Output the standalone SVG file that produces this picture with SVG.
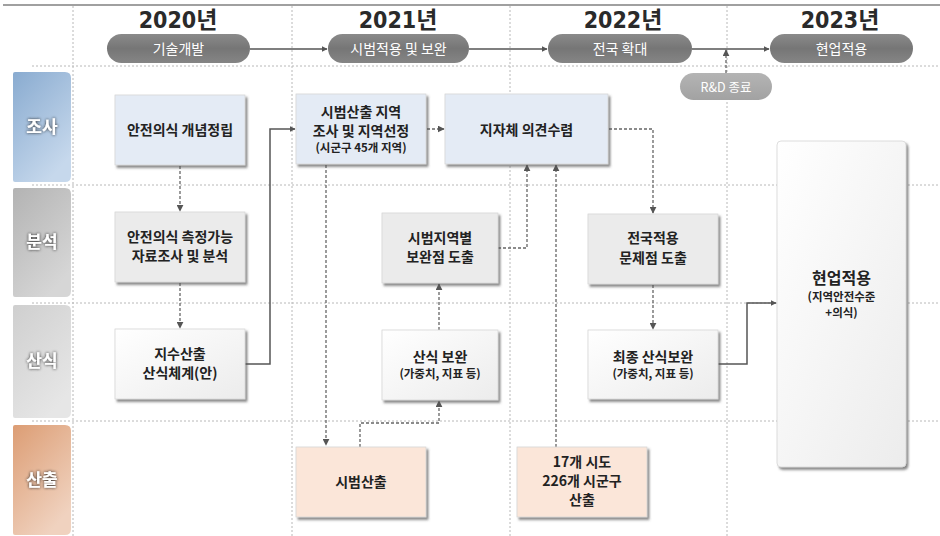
<svg xmlns="http://www.w3.org/2000/svg" width="940" height="536" viewBox="0 0 940 536">
<defs>
<style>
.grid{stroke:#b8b8b8;stroke-width:1;stroke-dasharray:2 2;fill:none}
.yr{font-family:"DejaVu Sans Condensed","DejaVu Sans","Noto Sans CJK KR",sans-serif;font-weight:bold;font-size:23px;fill:#2a2a2a;text-anchor:middle}
.pt{font-family:"Noto Sans CJK KR","Noto Sans",sans-serif;font-size:14px;fill:#fff;text-anchor:middle}
.lab{font-family:"Noto Sans CJK KR","Noto Sans",sans-serif;font-size:17px;font-weight:bold;fill:#fff;text-anchor:middle;filter:url(#glow)}
.t{font-family:"Noto Sans CJK KR","Noto Sans",sans-serif;font-size:14px;font-weight:bold;fill:#222;text-anchor:middle}
.s{font-family:"Noto Sans CJK KR","Noto Sans",sans-serif;font-size:11.5px;font-weight:bold;fill:#222;text-anchor:middle}
.box{filter:url(#sh);stroke:#d6d6d6;stroke-width:0.8}
.solid{stroke:#555;stroke-width:1.5;fill:none}
.dash{stroke:#666;stroke-width:1.3;stroke-dasharray:3 2;fill:none}
</style>
<filter id="sh" x="-10%" y="-10%" width="125%" height="130%">
<feDropShadow dx="2" dy="2.5" stdDeviation="1.2" flood-color="#555" flood-opacity="0.7"/>
</filter>
<filter id="glow" x="-30%" y="-30%" width="160%" height="160%">
<feDropShadow dx="0" dy="0" stdDeviation="1.8" flood-color="#222" flood-opacity="1"/>
</filter>
<marker id="ah" viewBox="0 0 10 10" refX="9" refY="5" markerWidth="6" markerHeight="6" orient="auto" markerUnits="userSpaceOnUse">
<path d="M0,0 L10,5 L0,10 z" fill="#555"/>
</marker>
<marker id="ahd" viewBox="0 0 10 10" refX="9" refY="5" markerWidth="7" markerHeight="7" orient="auto" markerUnits="userSpaceOnUse">
<path d="M0,0 L10,5 L0,10 z" fill="#555"/>
</marker>
<linearGradient id="gPill" x1="0" y1="0" x2="0" y2="1">
<stop offset="0" stop-color="#8a8a8a"/><stop offset="0.5" stop-color="#767676"/><stop offset="1" stop-color="#858585"/>
</linearGradient>
<linearGradient id="gRD" x1="0" y1="0" x2="0" y2="1">
<stop offset="0" stop-color="#b4b4b4"/><stop offset="1" stop-color="#a2a2a2"/>
</linearGradient>
<linearGradient id="gBlue" x1="0" y1="0" x2="0.6" y2="1">
<stop offset="0" stop-color="#89abd0"/><stop offset="1" stop-color="#c6d8ec"/>
</linearGradient>
<linearGradient id="gGray1" x1="0" y1="0" x2="0.6" y2="1">
<stop offset="0" stop-color="#b3b3b3"/><stop offset="1" stop-color="#d6d6d6"/>
</linearGradient>
<linearGradient id="gGray2" x1="0" y1="0" x2="0.6" y2="1">
<stop offset="0" stop-color="#cfcfcf"/><stop offset="1" stop-color="#e6e6e6"/>
</linearGradient>
<linearGradient id="gOr" x1="0" y1="0" x2="0.6" y2="1">
<stop offset="0" stop-color="#dc9d74"/><stop offset="1" stop-color="#f0d2bf"/>
</linearGradient>
<linearGradient id="gWhite" x1="0" y1="0" x2="1" y2="1">
<stop offset="0" stop-color="#ffffff"/><stop offset="1" stop-color="#ececec"/>
</linearGradient>
</defs>
<rect width="940" height="536" fill="#fff"/>

<g id="grid">
<line x1="3" y1="5" x2="940" y2="5" stroke="#808080" stroke-width="1.5"/>
<line class="grid" x1="73" y1="6" x2="73" y2="536"/>
<line class="grid" x1="292" y1="6" x2="292" y2="536"/>
<line class="grid" x1="510" y1="6" x2="510" y2="536"/>
<line class="grid" x1="727" y1="6" x2="727" y2="536"/>
<line class="grid" x1="32" y1="66" x2="940" y2="66"/>
<line class="grid" x1="32" y1="185" x2="940" y2="185"/>
<line class="grid" x1="32" y1="303" x2="940" y2="303"/>
<line class="grid" x1="32" y1="421" x2="940" y2="421"/>
</g>

<g id="years">
<text class="yr" x="178" y="28">2020년</text>
<text class="yr" x="398" y="28">2021년</text>
<text class="yr" x="623" y="28">2022년</text>
<text class="yr" x="840" y="28">2023년</text>
</g>

<g id="pill-1"><rect x="107" y="34" width="143" height="29" rx="14.5" fill="url(#gPill)"/><text class="pt" x="178.5" y="54">기술개발</text></g>
<g id="pill-2"><rect x="328" y="34" width="141" height="29" rx="14.5" fill="url(#gPill)"/><text class="pt" x="398.5" y="54">시범적용 및 보완</text></g>
<g id="pill-3"><rect x="548" y="34" width="144" height="29" rx="14.5" fill="url(#gPill)"/><text class="pt" x="620" y="54">전국 확대</text></g>
<g id="pill-4"><rect x="770" y="34" width="143" height="29" rx="14.5" fill="url(#gPill)"/><text class="pt" x="841.5" y="54">현업적용</text></g>
<g id="pill-rd"><rect x="680" y="73" width="92" height="27" rx="13.5" fill="url(#gRD)"/><text class="pt" x="726" y="91.5" style="font-size:12.5px">R&amp;D 종료</text></g>

<g id="lab-josa"><path d="M15,72 H65 Q71,72 71,78 V176 Q71,182 65,182 H15 Q13,182 13,180 V74 Q13,72 15,72 Z" fill="url(#gBlue)"/><text class="lab" x="42" y="133">조사</text></g>
<g id="lab-bunseok"><path d="M15,188 H65 Q71,188 71,194 V291 Q71,297 65,297 H15 Q13,297 13,295 V190 Q13,188 15,188 Z" fill="url(#gGray1)"/><text class="lab" x="42" y="248">분석</text></g>
<g id="lab-sansik"><path d="M15,305 H65 Q71,305 71,311 V412 Q71,418 65,418 H15 Q13,418 13,416 V307 Q13,305 15,305 Z" fill="url(#gGray2)"/><text class="lab" x="42" y="367">산식</text></g>
<g id="lab-sanchul"><path d="M15,425 H65 Q71,425 71,431 V529 Q71,535 65,535 H15 Q13,535 13,533 V427 Q13,425 15,425 Z" fill="url(#gOr)"/><text class="lab" x="42" y="486">산출</text></g>

<g id="connectors">
<line class="solid" x1="250" y1="49" x2="327" y2="49" marker-end="url(#ah)"/>
<line class="solid" x1="469" y1="49" x2="547" y2="49" marker-end="url(#ah)"/>
<line class="solid" x1="692" y1="49" x2="769" y2="49" marker-end="url(#ah)"/>
<line class="dash" x1="726" y1="73" x2="726" y2="50" marker-end="url(#ahd)"/>
<line class="dash" x1="180" y1="166" x2="180" y2="211" marker-end="url(#ahd)"/>
<line class="dash" x1="180" y1="283" x2="180" y2="328" marker-end="url(#ahd)"/>
<path class="solid" d="M245,364 H270 V129 H295" marker-end="url(#ah)"/>
<line class="dash" x1="427" y1="129" x2="444" y2="129" marker-end="url(#ahd)"/>
<line class="dash" x1="326" y1="165" x2="326" y2="445" marker-end="url(#ahd)"/>
<path class="dash" d="M360,447 V423 H439 V401" marker-end="url(#ahd)"/>
<line class="dash" x1="439" y1="330" x2="439" y2="284" marker-end="url(#ahd)"/>
<path class="dash" d="M498,248 H527 V165" marker-end="url(#ahd)"/>
<line class="dash" x1="556" y1="447" x2="556" y2="165" marker-end="url(#ahd)"/>
<path class="dash" d="M609,129 H653 V213" marker-end="url(#ahd)"/>
<line class="dash" x1="653" y1="285" x2="653" y2="329" marker-end="url(#ahd)"/>
<path class="solid" d="M718,364 H747 V303 H776" marker-end="url(#ah)"/>
</g>

<g id="n-concept"><rect class="box" x="115" y="95" width="130" height="70" fill="#e4ebf5"/><text class="t" x="180" y="135">안전의식 개념정립</text></g>
<g id="n-survey"><rect class="box" x="115" y="212" width="130" height="70" fill="#ebebeb"/><text class="t" x="180" y="242">안전의식 측정가능</text><text class="t" x="180" y="261">자료조사 및 분석</text></g>
<g id="n-index"><rect class="box" x="115" y="329" width="130" height="70" fill="url(#gWhite)"/><text class="t" x="180" y="359">지수산출</text><text class="t" x="180" y="378">산식체계(안)</text></g>
<g id="n-pilot-select"><rect class="box" x="296" y="94" width="130" height="70" fill="#e4ebf5"/><text class="t" x="361" y="117">시범산출 지역</text><text class="t" x="361" y="136">조사 및 지역선정</text><text class="s" x="361" y="152">(시군구 45개 지역)</text></g>
<g id="n-local"><rect class="box" x="445" y="94" width="163" height="70" fill="#e4ebf5"/><text class="t" x="526.5" y="135">지자체 의견수렴</text></g>
<g id="n-pilot-issue"><rect class="box" x="382" y="213" width="116" height="70" fill="#ebebeb"/><text class="t" x="440" y="243">시범지역별</text><text class="t" x="440" y="262">보완점 도출</text></g>
<g id="n-formula-fix"><rect class="box" x="382" y="330" width="116" height="70" fill="url(#gWhite)"/><text class="t" x="440" y="362">산식 보완</text><text class="s" x="440" y="378">(가중치, 지표 등)</text></g>
<g id="n-pilot-calc"><rect class="box" x="296" y="447" width="130" height="70" fill="#fbe6d9"/><text class="t" x="361" y="487">시범산출</text></g>
<g id="n-nation-calc"><rect class="box" x="517" y="447" width="130" height="70" fill="#fbe6d9"/><text class="t" x="582" y="467">17개 시도</text><text class="t" x="582" y="486">226개 시군구</text><text class="t" x="582" y="505">산출</text></g>
<g id="n-nation-issue"><rect class="box" x="588" y="214" width="130" height="70" fill="#ebebeb"/><text class="t" x="653" y="243">전국적용</text><text class="t" x="653" y="263">문제점 도출</text></g>
<g id="n-final"><rect class="box" x="588" y="330" width="130" height="69" fill="url(#gWhite)"/><text class="t" x="653" y="362">최종 산식보완</text><text class="s" x="653" y="378">(가중치, 지표 등)</text></g>
<g id="n-apply"><rect class="box" x="777" y="141" width="129" height="326" rx="4" fill="url(#gWhite)"/><text class="t" x="841.5" y="284" style="font-size:16px">현업적용</text><text class="s" x="841.5" y="301">(지역안전수준</text><text class="s" x="841.5" y="317">+의식)</text></g>
</svg>
